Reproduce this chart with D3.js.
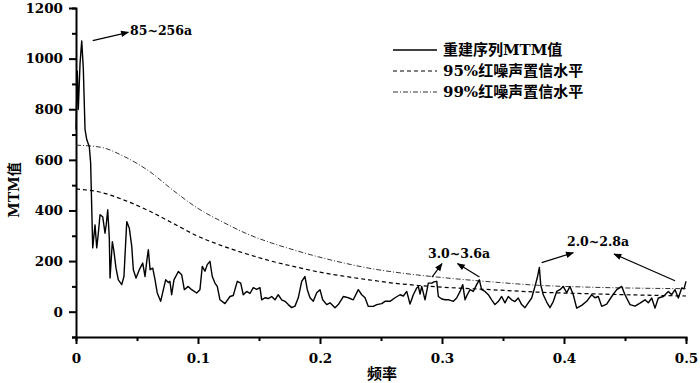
<!DOCTYPE html>
<html>
<head>
<meta charset="utf-8">
<script src="https://cdn.jsdelivr.net/npm/d3@7"></script>
<style>
    body { margin: 0; background: #fff; }
    svg { display: block; }
    text { font-family: "DejaVu Serif", "Noto Sans CJK SC", serif; font-weight: bold; fill: #000; }
    .cjk { font-family: "DejaVu Serif", "Noto Sans CJK SC", sans-serif; }
</style>
</head>
<body>
<div id="chart"></div>
<script>
// reconstructed MTM spectrum (frequency, value)
const spectrumFreq = [
    0, 0.0011, 0.0019, 0.0033, 0.0047, 0.006, 0.0074, 0.0088, 0.0109, 0.012,
    0.0137, 0.0156, 0.017, 0.0183, 0.0197, 0.0219, 0.0238, 0.0248, 0.026, 0.0273,
    0.0279, 0.0298, 0.0311, 0.0328, 0.0347, 0.0375, 0.0393, 0.0416, 0.0437, 0.0457,
    0.047, 0.0492, 0.0519, 0.0547, 0.0566, 0.058, 0.0593, 0.0607, 0.0629, 0.0648,
    0.0666, 0.0694, 0.0716, 0.0735, 0.0757, 0.077, 0.0784, 0.0803, 0.0839, 0.0866,
    0.0888, 0.092, 0.0948, 0.0989, 0.1016, 0.1035, 0.1057, 0.1076, 0.1098, 0.1117,
    0.1139, 0.1158, 0.118, 0.1221, 0.1262, 0.1289, 0.1322, 0.135, 0.1371, 0.1399,
    0.1426, 0.1453, 0.1481, 0.1508, 0.1522, 0.1549, 0.1576, 0.1604, 0.1631, 0.1658,
    0.1686, 0.1713, 0.174, 0.1768, 0.1795, 0.1822, 0.185, 0.1877, 0.1896, 0.1918,
    0.1945, 0.1973, 0.2, 0.2022, 0.2055, 0.2082, 0.2123, 0.215, 0.2191, 0.2232,
    0.2273, 0.2314, 0.2342, 0.2369, 0.2396, 0.2437, 0.2465, 0.2506, 0.2533, 0.2574,
    0.2615, 0.2656, 0.2683, 0.2711, 0.2738, 0.2765, 0.2793, 0.2806, 0.282, 0.2834,
    0.2861, 0.2888, 0.2916, 0.2934, 0.2957, 0.297, 0.2998, 0.3025, 0.3057, 0.3093,
    0.312, 0.3148, 0.317, 0.3189, 0.3207, 0.323, 0.3256, 0.3284, 0.3306, 0.3325,
    0.3352, 0.338, 0.3407, 0.3434, 0.3461, 0.3489, 0.3516, 0.3543, 0.3571, 0.3598,
    0.3625, 0.3653, 0.368, 0.3707, 0.3735, 0.3762, 0.3781, 0.3798, 0.3809, 0.383,
    0.3858, 0.3885, 0.3912, 0.394, 0.3967, 0.3994, 0.4022, 0.4049, 0.4076, 0.4104,
    0.4145, 0.4186, 0.4227, 0.4254, 0.4281, 0.4309, 0.435, 0.4391, 0.4432, 0.4473,
    0.45, 0.4541, 0.4582, 0.4623, 0.4664, 0.4691, 0.4719, 0.4746, 0.4773, 0.4814,
    0.4855, 0.4883, 0.491, 0.4937, 0.4965, 0.4984, 0.5
];
const spectrumValue = [
    720, 950, 800, 980, 1070, 960, 720, 680, 652, 588,
    252, 343, 252, 310, 383, 375, 310, 345, 403, 291,
    133, 277, 238, 172, 126, 107, 139, 356, 330, 258,
    166, 133, 166, 192, 139, 200, 245, 166, 172, 126,
    74, 41, 87, 126, 115, 120, 67, 126, 159, 146,
    87, 100, 87, 74, 87, 179, 160, 186, 199, 139,
    113, 100, 47, 32, 60, 64, 120, 113, 67, 80,
    72, 95, 88, 95, 47, 55, 52, 60, 47, 67,
    47, 41, 28, 16, 22, 55, 120, 139, 87, 55,
    41, 75, 87, 47, 28, 35, 16, 28, 60, 55,
    47, 87, 67, 55, 21, 21, 28, 32, 41, 41,
    55, 67, 62, 80, 30, 67, 94, 100, 70, 100,
    47, 113, 113, 118, 120, 60, 50, 47, 47, 41,
    54, 80, 107, 47, 67, 87, 80, 107, 126, 87,
    80, 67, 47, 28, 40, 60, 35, 60, 47, 40,
    54, 28, 16, 35, 54, 100, 134, 175, 107, 67,
    38, 16, 40, 80, 87, 100, 75, 100, 67, 14,
    25, 41, 67, 55, 60, 21, 30, 60, 87, 100,
    67, 28, 22, 34, 47, 35, 54, 14, 54, 60,
    80, 67, 87, 54, 94, 90, 120
];

// red-noise confidence levels
const noiseFreq = [0, 0.02, 0.04, 0.06, 0.08, 0.10, 0.12, 0.14, 0.16, 0.18, 0.20, 0.22, 0.24, 0.26, 0.28, 0.30, 0.34, 0.38, 0.42, 0.46, 0.5];
const noise95 = [485, 472, 440, 398, 348, 298, 260, 228, 200, 177, 156, 140, 126, 113, 104, 97, 87, 77, 71, 66, 62];
const noise99 = [658, 650, 612, 555, 478, 408, 355, 308, 272, 242, 215, 192, 172, 157, 145, 135, 118, 104, 97, 93, 91];

const xTicks = [0, 0.1, 0.2, 0.3, 0.4, 0.5];
const yTicks = [0, 200, 400, 600, 800, 1000, 1200];

const legendLabels = ['重建序列MTM值', '95%红噪声置信水平', '99%红噪声置信水平'];

// period annotations: text position and arrows [fromF, fromV, toF, toV]
const annotations = [
    { label: '85~256a', f: 0.0443, v: 1093, arrows: [[0.0137, 1071, 0.0429, 1104]] },
    { label: '3.0~3.6a', f: 0.2885, v: 212, arrows: [[0.2918, 137, 0.300, 190], [0.3307, 137, 0.3127, 190]] },
    { label: '2.0~2.8a', f: 0.4025, v: 258, arrows: [[0.3817, 194, 0.4076, 233], [0.4910, 122, 0.4410, 228]] }
];

const width = 700;
const height = 383;
const margin = { top: 8, right: 14, bottom: 46, left: 76 };

const svg = d3.select('#chart').append('svg')
    .attr('width', width)
    .attr('height', height);

const xScale = d3.scaleLinear()
    .domain([0, 0.5])
    .range([margin.left, width - margin.right]);

const yScale = d3.scaleLinear()
    .domain([-100, 1200])
    .range([height - margin.bottom, margin.top]);

svg.append('defs').append('marker')
    .attr('id', 'arrow')
    .attr('viewBox', '0 0 10 10')
    .attr('refX', 9)
    .attr('refY', 5)
    .attr('markerWidth', 10)
    .attr('markerHeight', 8)
    .attr('markerUnits', 'userSpaceOnUse')
    .attr('orient', 'auto')
    .append('path')
    .attr('d', 'M0,1 L10,5 L0,9 Z')
    .attr('fill', '#000');

// axes
svg.append('g')
    .attr('transform', `translate(0,${height - margin.bottom})`)
    .call(d3.axisBottom(xScale).tickValues(d3.range(0, 0.5001, 0.05)).tickSize(4).tickFormat(''))
    .call((group) => group.selectAll('.tick line')
        .attr('y2', (d, i) => (i % 2 === 0 ? 7 : 4)));

svg.append('g')
    .attr('transform', `translate(0,${height - margin.bottom})`)
    .call(d3.axisBottom(xScale).tickValues(xTicks).tickSize(0).tickPadding(16)
        .tickFormat((d) => (d === 0 ? '0' : d3.format('.1f')(d))))
    .call((group) => group.select('.domain').remove())
    .call((group) => group.selectAll('text').attr('font-size', 13.5));

svg.append('g')
    .attr('transform', `translate(${margin.left},0)`)
    .call(d3.axisLeft(yScale).tickValues(d3.range(-100, 1201, 100)).tickSize(4).tickFormat(''))
    .call((group) => group.selectAll('.tick line')
        .attr('x2', (d) => (d % 200 === 0 ? -7 : -4)));

svg.append('g')
    .attr('transform', `translate(${margin.left},0)`)
    .call(d3.axisLeft(yScale).tickValues(yTicks).tickSize(0).tickPadding(13).tickFormat(d3.format('d')))
    .call((group) => group.select('.domain').remove())
    .call((group) => group.selectAll('text').attr('font-size', 13.5));

svg.selectAll('.domain, .tick line')
    .attr('stroke', '#000')
    .attr('stroke-width', 2);

svg.append('text')
    .attr('class', 'cjk')
    .attr('transform', `translate(19,190) rotate(-90)`)
    .attr('text-anchor', 'middle')
    .attr('font-size', 14)
    .text('MTM值');

svg.append('text')
    .attr('class', 'cjk')
    .attr('x', 382)
    .attr('y', 379)
    .attr('text-anchor', 'middle')
    .attr('font-size', 15)
    .text('频率');

// lines
const line = d3.line()
    .x((d) => xScale(d[0]))
    .y((d) => yScale(d[1]));

const spectrum = spectrumFreq.map((f, i) => [f, spectrumValue[i]]);
const red95 = noiseFreq.map((f, i) => [f, noise95[i]]);
const red99 = noiseFreq.map((f, i) => [f, noise99[i]]);

const styles = [
    { dash: null, width: 1.4, color: '#000' },
    { dash: '4,3', width: 1.2, color: '#000' },
    { dash: '5,2,1,2', width: 1, color: '#333' }
];

[red99, red95].forEach((series, i) => {
    const style = styles[2 - i];
    svg.append('path')
        .datum(series)
        .attr('d', line.curve(d3.curveMonotoneX))
        .attr('fill', 'none')
        .attr('stroke', style.color)
        .attr('stroke-width', style.width)
        .attr('stroke-dasharray', style.dash);
});

svg.append('path')
    .datum(spectrum)
    .attr('d', line.curve(d3.curveLinear))
    .attr('fill', 'none')
    .attr('stroke', '#000')
    .attr('stroke-width', 1.4)
    .attr('stroke-linejoin', 'round');

// legend
const legend = svg.append('g').attr('transform', 'translate(393,50)');

legendLabels.forEach((label, i) => {
    const row = legend.append('g').attr('transform', `translate(0,${i * 21})`);
    row.append('line')
        .attr('x1', 0)
        .attr('x2', 44)
        .attr('stroke', styles[i].color)
        .attr('stroke-width', styles[i].width)
        .attr('stroke-dasharray', styles[i].dash);
    row.append('text')
        .attr('class', 'cjk')
        .attr('x', 50)
        .attr('dy', '0.36em')
        .attr('font-size', 15)
        .text(label);
});

// annotations
annotations.forEach((note) => {
    svg.append('text')
        .attr('x', xScale(note.f))
        .attr('y', yScale(note.v))
        .attr('font-size', 12.5)
        .text(note.label);

    note.arrows.forEach((a) => {
        svg.append('line')
            .attr('x1', xScale(a[0]))
            .attr('y1', yScale(a[1]))
            .attr('x2', xScale(a[2]))
            .attr('y2', yScale(a[3]))
            .attr('stroke', '#000')
            .attr('stroke-width', 1.2)
            .attr('marker-end', 'url(#arrow)');
    });
});
</script>
</body>
</html>
